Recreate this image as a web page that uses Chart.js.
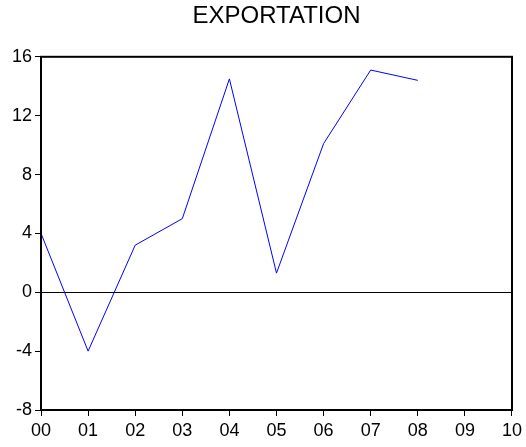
<!DOCTYPE html>
<html>
<head>
<meta charset="utf-8">
<script src="https://cdn.jsdelivr.net/npm/chart.js@4/dist/chart.umd.min.js"></script>
<style>
  html, body { margin: 0; padding: 0; background: #fff; }
  #wrap { width: 526px; height: 447px; position: relative; }
</style>
</head>
<body>
<div id="wrap"><canvas id="myChart"></canvas></div>
<script>
// years 2000..2010, data only up to 2008
let labels = ["00", "01", "02", "03", "04", "05", "06", "07", "08", "09", "10"];
let values = [4.0, -4.0, 3.2, 5.0, 14.5, 1.3, 10.1, 15.1, 14.4, null, null];
let yTicks = [-8, -4, 0, 4, 8, 12, 16];

// black box round the plot area
const boxPlugin = {
  id: "box",
  afterDraw(chart) {
    const a = chart.chartArea;
    const c = chart.ctx;
    c.save();
    c.strokeStyle = "#000";
    c.lineWidth = 2;
    c.strokeRect(a.left, a.top, a.right - a.left, a.bottom - a.top);
    c.restore();
  },
};

var ctx = document.getElementById("myChart");
var lineChart = new Chart(ctx, {
  type: "line",
  data: {
    labels: labels,
    datasets: [
      {
        label: "EXPORTATION",
        data: values,
        borderColor: "#0000ff",
        borderWidth: 1,
        pointRadius: 0,
        tension: 0,
        spanGaps: false,
      },
    ],
  },
  options: {
    responsive: true,
    maintainAspectRatio: false,
    animation: false,
    layout: {
      padding: { left: 0, right: 4, top: 0, bottom: 0 },
    },
    plugins: {
      legend: { display: false },
      tooltip: { enabled: false },
      title: {
        display: true,
        fullSize: false,
        text: "EXPORTATION",
        color: "#000",
        font: { family: "Liberation Sans, Arial", size: 24, weight: "normal" },
        padding: { top: 2, bottom: 26 },
      },
    },
    scales: {
      x: {
        type: "category",
        offset: false,
        border: { display: false },
        grid: { drawOnChartArea: false, tickLength: 6, tickColor: "#000", tickWidth: 1 },
        ticks: {
          color: "#000",
          padding: 4,
          maxRotation: 0,
          autoSkip: false,
          font: { family: "Liberation Sans, Arial", size: 18 },
        },
        afterFit(scale) { scale.height = 37; },
      },
      y: {
        min: -8,
        max: 16,
        border: { display: false },
        afterBuildTicks(scale) { scale.ticks = yTicks.map(v => ({ value: v })); },
        grid: {
          color: c => (c.tick && c.tick.value === 0 ? "#000" : "transparent"),
          lineWidth: 1,
          tickLength: 6,
          tickColor: "#000",
          tickWidth: 1,
        },
        ticks: {
          color: "#000",
          padding: 3,
          font: { family: "Liberation Sans, Arial", size: 18 },
        },
        afterFit(scale) { scale.width = 41; },
      },
    },
  },
  plugins: [boxPlugin],
});
</script>
</body>
</html>
